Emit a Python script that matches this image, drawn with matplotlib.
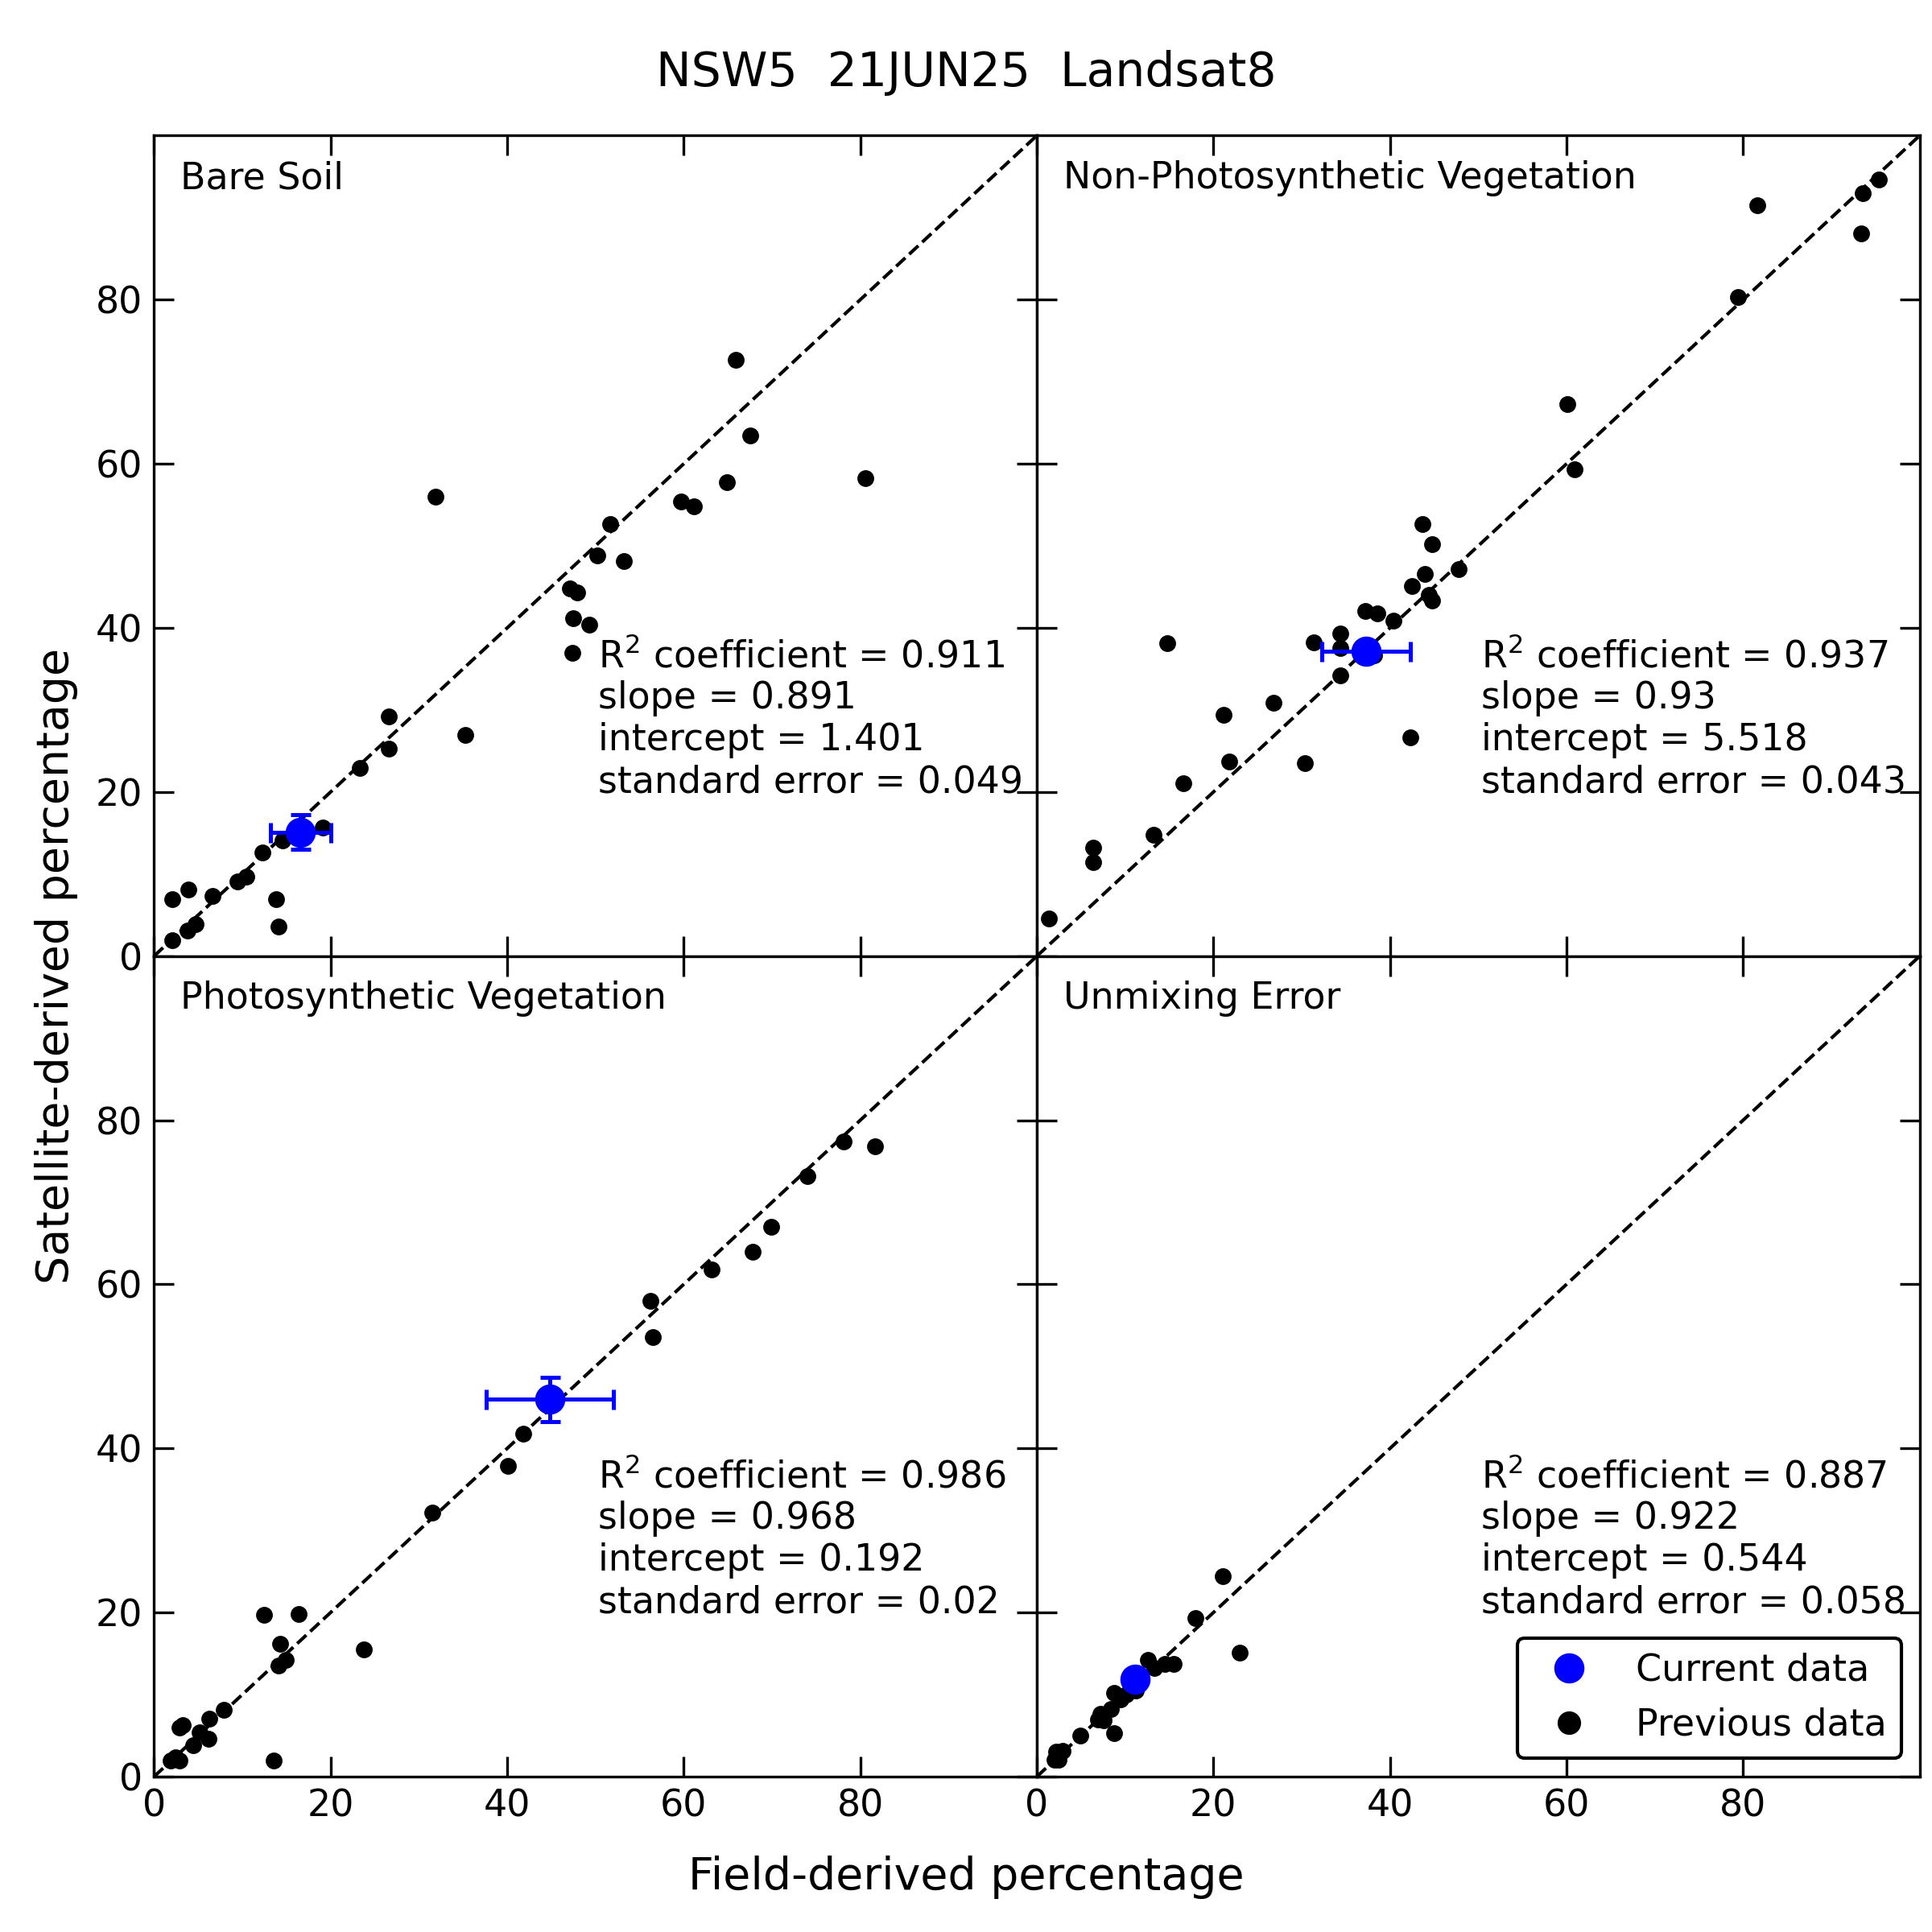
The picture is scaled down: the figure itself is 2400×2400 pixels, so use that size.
import numpy as np
import matplotlib.pyplot as plt
from matplotlib.lines import Line2D

# Bare Soil
bs_field = [2.1, 2.1, 3.9, 3.8, 4.7, 6.6, 9.5, 10.5, 12.3, 13.8, 14.1, 14.6, 19.1, 23.3, 26.6, 26.6,
            31.9, 35.3, 47.1, 47.9, 47.5, 49.3, 47.4, 50.2, 51.7, 53.2, 59.7, 61.2, 64.9, 65.9, 67.5, 80.6]
bs_sat = [1.9, 6.9, 8.1, 3.1, 3.9, 7.3, 9.1, 9.7, 12.6, 6.9, 3.6, 14.1, 15.7, 22.9, 29.2, 25.3,
          56.0, 27.0, 44.8, 44.3, 41.2, 40.4, 37.0, 48.8, 52.7, 48.1, 55.4, 54.8, 57.8, 72.7, 63.5, 58.3]
bs_cur = (16.6, 15.1, 3.4, 2.1)  # field, sat, field err, sat err
bs_stats = ['0.911', '0.891', '1.401', '0.049']

# Non-Photosynthetic Vegetation
npv_field = [1.4, 6.4, 6.4, 13.2, 14.8, 16.6, 21.2, 21.8, 26.8, 30.4, 31.4, 34.4, 34.4, 34.4, 37.2, 38.2,
             38.6, 40.4, 42.3, 42.5, 43.7, 44.0, 44.4, 44.8, 44.8, 47.8, 60.1, 60.9, 79.4, 81.6, 93.4, 93.6, 95.4]
npv_sat = [4.6, 13.2, 11.5, 14.8, 38.1, 21.1, 29.4, 23.7, 30.9, 23.5, 38.2, 39.3, 37.6, 34.2, 42.1, 36.7,
           41.8, 40.9, 26.7, 45.1, 52.7, 46.6, 44.0, 43.3, 50.2, 47.2, 67.3, 59.3, 80.3, 91.5, 88.1, 93.0, 94.7]
npv_cur = (37.3, 37.2, 5.0, 0.8)
npv_stats = ['0.937', '0.93', '5.518', '0.043']

# Photosynthetic Vegetation
pv_field = [1.9, 2.4, 2.9, 2.9, 3.3, 4.4, 5.2, 6.2, 6.3, 7.9, 12.5, 13.6, 14.1, 14.3, 14.9, 16.4,
            23.8, 31.5, 40.1, 41.8, 56.2, 56.5, 63.2, 67.8, 69.9, 74.0, 78.1, 81.7]
pv_sat = [2.0, 2.4, 2.0, 6.0, 6.3, 3.8, 5.4, 4.6, 7.1, 8.1, 19.7, 2.0, 13.5, 16.2, 14.2, 19.8,
          15.5, 32.2, 37.9, 41.8, 58.0, 53.6, 61.8, 64.0, 67.0, 73.2, 77.4, 76.8]
pv_cur = (44.8, 46.0, 7.2, 2.7)
pv_stats = ['0.986', '0.968', '0.192', '0.02']

# Unmixing Error
ue_field = [2.0, 2.5, 2.2, 2.9, 4.9, 8.8, 6.9, 7.6, 7.2, 8.4, 8.8, 9.5, 10.1, 11.2, 12.6, 13.3,
            14.5, 15.5, 18.0, 21.1, 23.0]
ue_sat = [2.1, 2.1, 3.0, 3.1, 5.0, 5.3, 7.0, 6.9, 7.7, 8.2, 10.2, 9.4, 10.0, 10.5, 14.2, 13.2,
          13.7, 13.7, 19.3, 24.4, 15.1]
ue_cur = (11.1, 11.9, 0.5, 0.5)
ue_stats = ['0.887', '0.922', '0.544', '0.058']

panels = [
    ('Bare Soil', bs_field, bs_sat, bs_cur, bs_stats),
    ('Non-Photosynthetic Vegetation', npv_field, npv_sat, npv_cur, npv_stats),
    ('Photosynthetic Vegetation', pv_field, pv_sat, pv_cur, pv_stats),
    ('Unmixing Error', ue_field, ue_sat, ue_cur, ue_stats),
]

fig, axes = plt.subplots(2, 2, figsize=(8, 8), sharex=True, sharey=True)
fig.subplots_adjust(left=0.0797, right=0.9936, top=0.9298, bottom=0.0804, wspace=0, hspace=0)

for ax, (name, fx, sy, cur, st) in zip(axes.flat, panels):
    ax.plot([0, 100], [0, 100], 'k--', lw=1.0)
    ax.plot(fx, sy, 'o', color='black', markersize=4, linestyle='none')
    ax.errorbar(cur[0], cur[1], xerr=cur[2], yerr=cur[3], fmt='o', color='blue',
                markersize=8, capsize=3, elinewidth=1.2, capthick=1.2, zorder=5)
    ax.set_xlim(0, 100)
    ax.set_ylim(0, 100)
    ax.set_xticks([0, 20, 40, 60, 80])
    ax.set_yticks([0, 20, 40, 60, 80])
    ax.tick_params(direction='in', length=6, top=True, right=True, labelsize=11)
    ax.text(0.03, 0.97, name, transform=ax.transAxes, fontsize=11, va='top', ha='left')
    txt = ('R$^2$ coefficient = ' + st[0] + '\nslope = ' + st[1] +
           '\nintercept = ' + st[2] + '\nstandard error = ' + st[3])
    ax.text(0.503, 0.19, txt, transform=ax.transAxes, fontsize=11, va='bottom', ha='left')

handles = [Line2D([], [], marker='o', color='blue', linestyle='none', markersize=8),
           Line2D([], [], marker='o', color='black', linestyle='none', markersize=6)]
axes[1, 1].legend(handles, ['Current data', 'Previous data'], loc='lower right',
                  fontsize=11, edgecolor='black', framealpha=1)

fig.suptitle('NSW5  21JUN25  Landsat8', fontsize=14, y=0.974)
fig.supxlabel('Field-derived percentage', fontsize=13.3, y=0.017)
fig.supylabel('Satellite-derived percentage', fontsize=13.3, x=0.018)

plt.savefig('out.png', dpi=300)
